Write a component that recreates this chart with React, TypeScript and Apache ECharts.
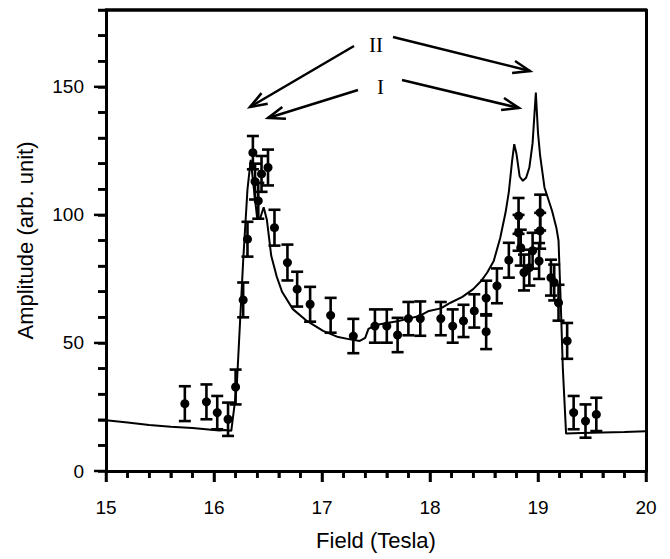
import React, { useEffect, useRef } from 'react';
import * as echarts from 'echarts';

// Simulated curve (Field in Tesla, Amplitude in arb. unit)
const curveX = [15.0, 15.2, 15.4, 15.6, 15.8, 15.95, 16.05, 16.1, 16.16, 16.21, 16.27, 16.31, 16.34, 16.37, 16.4, 16.43, 16.46, 16.49, 16.53, 16.58, 16.63, 16.73, 16.86, 17.01, 17.15, 17.26, 17.35, 17.4, 17.43, 17.5, 17.6, 17.7, 17.8, 17.9, 17.99, 18.1, 18.19, 18.3, 18.4, 18.48, 18.53, 18.59, 18.65, 18.7, 18.73, 18.76, 18.78, 18.8, 18.83, 18.86, 18.89, 18.92, 18.95, 18.98, 19.0, 19.02, 19.06, 19.13, 19.17, 19.19, 19.21, 19.23, 19.26, 19.4, 19.6, 19.8, 20.0];
const curveY = [19.8, 18.9, 18.0, 17.3, 16.8, 16.2, 15.8, 16.0, 15.7, 32.5, 82.0, 110.0, 121.5, 110.0, 98.5, 99.0, 103.0, 98.0, 84.0, 76.0, 70.0, 63.2, 58.6, 54.7, 52.3, 51.4, 50.8, 52.0, 55.5, 57.0, 57.8, 58.5, 59.5, 60.5, 62.5, 63.5, 65.7, 68.0, 71.0, 74.5, 77.5, 82.0, 91.0, 101.0, 109.0, 121.0, 127.6, 124.0, 115.0, 113.3, 114.5, 118.5, 128.0, 147.8, 132.0, 123.0, 110.7, 101.6, 95.0, 90.0, 66.4, 40.0, 14.6, 14.8, 15.0, 15.2, 15.5];

// Measured data points with error bars
const ptX = [15.73, 15.93, 16.03, 16.13, 16.2, 16.27, 16.31, 16.36, 16.38, 16.41, 16.44, 16.5, 16.56, 16.68, 16.77, 16.89, 17.08, 17.29, 17.49, 17.6, 17.7, 17.8, 17.91, 18.1, 18.21, 18.31, 18.41, 18.52, 18.52, 18.62, 18.73, 18.82, 18.82, 18.84, 18.87, 18.92, 18.95, 19.02, 19.02, 19.01, 19.12, 19.15, 19.19, 19.27, 19.33, 19.44, 19.54];
const ptY = [26.3, 27.0, 22.8, 20.2, 32.8, 66.8, 90.5, 124.3, 113.0, 105.5, 116.0, 118.5, 95.0, 81.4, 71.0, 65.1, 60.8, 52.7, 56.6, 56.6, 53.1, 59.5, 59.5, 59.5, 56.6, 58.6, 62.5, 67.5, 54.4, 72.3, 82.3, 99.6, 93.0, 87.2, 77.5, 79.4, 86.0, 100.9, 93.8, 82.0, 75.5, 73.6, 65.7, 50.8, 22.8, 19.5, 22.1];
const ptErr = [6.8, 6.8, 6.5, 6.5, 6.8, 6.8, 6.8, 6.5, 7, 7, 7, 7, 7, 7, 6.8, 6.8, 6.8, 6.7, 6.5, 6.5, 6.7, 6.5, 6.7, 6.5, 6.5, 6.3, 6.5, 6.8, 6.8, 6.8, 6.8, 7, 7, 7, 7, 7, 7, 7, 7, 7, 7, 7, 7, 7, 6.5, 6.5, 6.5];

// Axis tick positions
const xMajorTicks = [15, 16, 17, 18, 19, 20];
const xMinorTicks = [15.2, 15.4, 15.6, 15.8, 16.2, 16.4, 16.6, 16.8, 17.2, 17.4, 17.6, 17.8, 18.2, 18.4, 18.6, 18.8, 19.2, 19.4, 19.6, 19.8];
const yMajorTicks = [0, 50, 100, 150];
const yMinorTicks = [10, 20, 30, 40, 60, 70, 80, 90, 110, 120, 130, 140, 160, 170, 180];

const SANS = "'Liberation Sans', Arial, Helvetica, sans-serif";
const SERIF = "'Liberation Serif', 'Times New Roman', serif";

function arrow(x1: number, y1: number, x2: number, y2: number) {
  const ang = Math.atan2(y2 - y1, x2 - x1);
  const len = 18;
  const spread = (20 * Math.PI) / 180;
  const b1 = [x2 - len * Math.cos(ang - spread), y2 - len * Math.sin(ang - spread)];
  const b2 = [x2 - len * Math.cos(ang + spread), y2 - len * Math.sin(ang + spread)];
  const style = () => ({ stroke: '#000', lineWidth: 2.5, fill: 'none' });
  return [
    { type: 'line', shape: { x1, y1, x2, y2 }, style: style() },
    { type: 'polyline', shape: { points: [b1, [x2, y2], b2] }, style: style() },
  ];
}

const ts = (w = 2.5) => ({ color: '#000', width: w });

// tick rows: [value, kind (0 = x axis, 1 = y axis), length in px]
const tickRows: number[][] = [
  ...xMajorTicks.map((v) => [v, 0, 11]),
  ...xMinorTicks.map((v) => [v, 0, 7]),
  ...yMajorTicks.map((v) => [v, 1, 12]),
  ...yMinorTicks.map((v) => [v, 1, 8]),
];

export default function App() {
  const ref = useRef<HTMLDivElement>(null);
  useEffect(() => {
    const chart = echarts.init(ref.current!, null, { renderer: 'svg' });
    const option: any = {
      animation: false,
      grid: { left: 106, right: 24, top: 10, bottom: 88 },
      xAxis: [
        {
          type: 'value',
          min: 15,
          max: 20,
          interval: 1,
          position: 'bottom',
          axisLine: { show: true, onZero: false, lineStyle: ts(3) },
          axisTick: { show: true, length: 11, lineStyle: ts() },
          minorTick: { show: true, splitNumber: 5, length: 7, lineStyle: ts() },
          splitLine: { show: false },
          minorSplitLine: { show: false },
          axisLabel: { margin: 27, color: '#000', fontSize: 19, fontFamily: SANS },
          name: 'Field (Tesla)',
          nameLocation: 'middle',
          nameGap: 58,
          nameTextStyle: { color: '#000', fontSize: 22, fontFamily: SANS },
        },
        {
          type: 'value',
          min: 15,
          max: 20,
          position: 'top',
          axisLine: { show: true, onZero: false, lineStyle: ts(3.5) },
          axisTick: { show: false },
          axisLabel: { show: false },
          splitLine: { show: false },
        },
      ],
      yAxis: [
        {
          type: 'value',
          min: 0,
          max: 180,
          interval: 10,
          position: 'left',
          axisLine: { show: true, onZero: false, lineStyle: ts(3) },
          axisTick: { show: true, length: 8, lineStyle: ts() },
          splitLine: { show: false },
          axisLabel: {
            formatter: (v: number) => (v % 50 === 0 && v <= 150 ? String(v) : ''),
            margin: 22,
            color: '#000',
            fontSize: 19,
            fontFamily: SANS,
          },
          name: 'Amplitude (arb. unit)',
          nameLocation: 'middle',
          nameGap: 70,
          nameTextStyle: { color: '#000', fontSize: 22, fontFamily: SANS },
        },
        {
          type: 'value',
          min: 0,
          max: 180,
          position: 'right',
          axisLine: { show: true, onZero: false, lineStyle: ts(3) },
          axisTick: { show: false },
          axisLabel: { show: false },
          splitLine: { show: false },
        },
      ],
      series: [
        {
          type: 'line',
          data: curveX.map((x, i) => [x, curveY[i]]),
          showSymbol: false,
          lineStyle: { color: '#000', width: 2 },
          z: 2,
        },
        {
          type: 'custom',
          data: ptX.map((x, i) => [x, ptY[i] - ptErr[i], ptY[i] + ptErr[i]]),
          encode: { x: 0, y: [1, 2] },
          renderItem: (params: any, api: any) => {
            const x = api.value(0);
            const lo = api.coord([x, api.value(1)]);
            const hi = api.coord([x, api.value(2)]);
            const hw = 6;
            const style = { stroke: '#000', lineWidth: 2.6 };
            return {
              type: 'group',
              children: [
                { type: 'line', shape: { x1: lo[0], y1: lo[1], x2: hi[0], y2: hi[1] }, style },
                { type: 'line', shape: { x1: lo[0] - hw, y1: lo[1], x2: lo[0] + hw, y2: lo[1] }, style },
                { type: 'line', shape: { x1: hi[0] - hw, y1: hi[1], x2: hi[0] + hw, y2: hi[1] }, style },
              ],
            };
          },
          z: 3,
        },
        {
          type: 'scatter',
          data: ptX.map((x, i) => [x, ptY[i]]),
          symbol: 'circle',
          symbolSize: 9,
          itemStyle: { color: '#000', opacity: 1 },
          z: 4,
        },
        {
          // outward axis ticks, placed through the axes' scales
          type: 'custom',
          clip: false,
          silent: true,
          data: tickRows,
          encode: { x: 0 },
          renderItem: (params: any, api: any) => {
            const v = api.value(0);
            const kind = api.value(1);
            const len = api.value(2);
            const style = { stroke: '#000', lineWidth: 2.5 };
            if (kind === 0) {
              const p = api.coord([v, 0]);
              return { type: 'line', shape: { x1: p[0], y1: p[1], x2: p[0], y2: p[1] + len }, style };
            }
            const p = api.coord([15, v]);
            return { type: 'line', shape: { x1: p[0], y1: p[1], x2: p[0] - len, y2: p[1] }, style };
          },
          z: 5,
        },
      ],
      graphic: [
        {
          type: 'text',
          left: 369,
          top: 34,
          style: { text: 'II', fontFamily: SERIF, fontSize: 21, fill: '#000' },
        },
        {
          type: 'text',
          left: 377,
          top: 76,
          style: { text: 'I', fontFamily: SERIF, fontSize: 21, fill: '#000' },
        },
        ...arrow(354, 46, 250, 107),
        ...arrow(393, 37, 530, 71),
        ...arrow(358, 90, 268, 118),
        ...arrow(402, 80, 519, 108),
      ],
    };
    chart.setOption(option);
    return () => chart.dispose();
  }, []);
  return (
    <div
      ref={ref}
      style={{ position: 'fixed', left: 0, top: 0, width: 670, height: 559, background: '#fff' }}
    />
  );
}
